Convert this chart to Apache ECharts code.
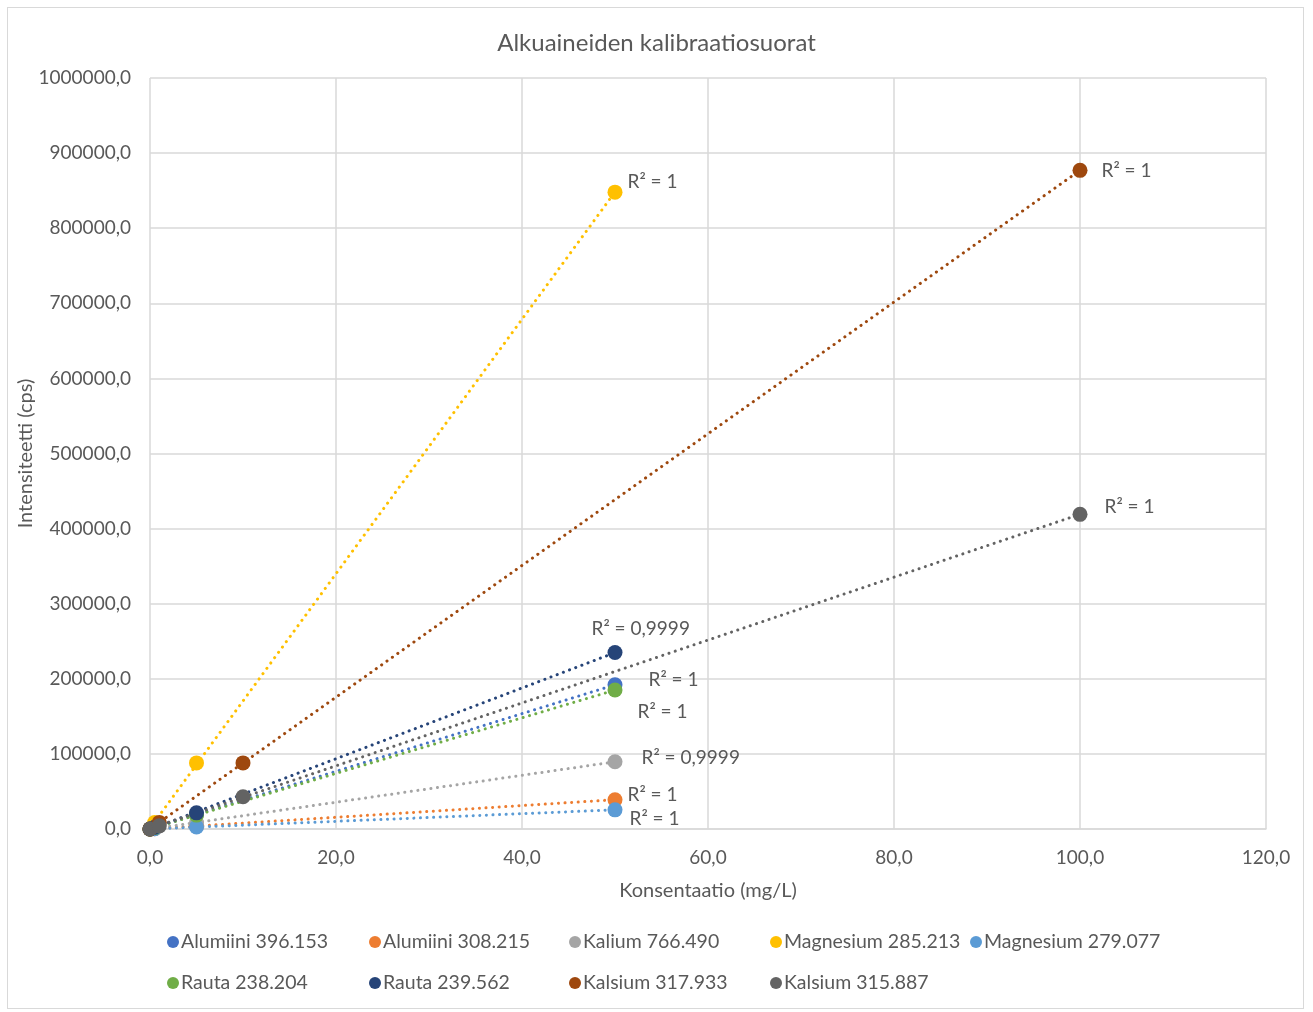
<!DOCTYPE html>
<html><head><meta charset="utf-8">
<script src="https://cdn.jsdelivr.net/npm/echarts@6/dist/echarts.min.js"></script>
<style>
html,body{margin:0;padding:0;background:#fff;}
#frame{position:absolute;left:7px;top:7px;width:1297px;height:1002px;border:1px solid #d9d9d9;box-sizing:border-box;}
#chart{position:absolute;left:0;top:0;width:1313px;height:1012px;}
</style></head>
<body><div id="frame"></div><div id="chart"></div>
<script>
const seriesNames = ['Alumiini 396.153','Alumiini 308.215','Kalium 766.490','Magnesium 285.213','Magnesium 279.077','Rauta 238.204','Rauta 239.562','Kalsium 317.933','Kalsium 315.887'];
const colors = ['#4472C4','#ED7D31','#A5A5A5','#FFC000','#5B9BD5','#70AD47','#264478','#9E480E','#636363'];
const xLow = [0, 0.5, 5, 50];
const xHigh = [0, 1, 10, 100];
const al396 = [0, 1900, 19200, 192000];
const al308 = [0, 390, 3900, 39000];
const kal766 = [0, 900, 8200, 89500];
const mg285 = [0, 8500, 88000, 848000];
const mg279 = [0, 260, 2600, 25500];
const fe238 = [0, 1850, 18500, 185000];
const fe239 = [0, 2300, 21500, 235000];
const ca317 = [0, 8800, 88000, 877000];
const ca315 = [0, 4200, 43000, 419000];
const r2Labels = ['R² = 1','R² = 1','R² = 0,9999','R² = 1','R² = 1','R² = 1','R² = 0,9999','R² = 1','R² = 1'];
const xTickLabels = ['0,0','20,0','40,0','60,0','80,0','100,0','120,0'];

const values = [al396, al308, kal766, mg285, mg279, fe238, fe239, ca317, ca315];
const xs = [xLow, xLow, xLow, xLow, xLow, xLow, xLow, xHigh, xHigh];
// label layout offsets (style, not data)
const labelOffsets = [[21,-5],[0,-5],[14,-4],[0,-10],[2,9],[10,22],[-36,-24],[9,1],[12,-7]];
const legendPos = [[162,927],[364,927],[564,927],[765,927],[965,927],[162,968],[364,968],[564,968],[765,968]];

function regress(x, y){
  const n = x.length; let sx=0, sy=0, sxx=0, sxy=0;
  for(let i=0;i<n;i++){sx+=x[i];sy+=y[i];sxx+=x[i]*x[i];sxy+=x[i]*y[i];}
  const b=(n*sxy-sx*sy)/(n*sxx-sx*sx); const a=(sy-b*sx)/n; return [a,b];
}

const FONT = 'Lato';
const TXT = '#595959';
const series = [];
seriesNames.forEach((name,i)=>{
  const x = xs[i], y = values[i];
  const [a,b] = regress(x,y);
  const xmax = Math.max(...x);
  series.push({
    name: name+' trend', type:'line', data:[[0,a],[xmax,a+b*xmax]],
    showSymbol:false, symbol:'none', silent:true, z:1,
    lineStyle:{color:colors[i], width:3, type:[0.1,6.5], cap:'round'}
  });
});
seriesNames.forEach((name,i)=>{
  const x = xs[i], y = values[i];
  const data = x.map((xv,j)=>{
    const item = {value:[xv, y[j]]};
    if(j===x.length-1){
      item.label = {show:true, position:'right', formatter:r2Labels[i], offset:labelOffsets[i],
        color:TXT, fontSize:19, fontFamily:FONT};
    }
    return item;
  });
  series.push({
    name:name, type:'scatter', data:data, symbol:'circle', symbolSize:15, z:3,
    itemStyle:{color:colors[i], opacity:1}
  });
});

const legends = seriesNames.map((name,i)=>({
  data:[{name:name, icon:'circle'}], left:legendPos[i][0], top:legendPos[i][1],
  itemWidth:12, itemHeight:12, itemGap:4, selectedMode:false,
  textStyle:{color:TXT, fontSize:19.5, fontFamily:FONT, padding:[0,0,0,-3]}
}));

const chart = echarts.init(document.getElementById('chart'), null, {renderer:'canvas'});
chart.setOption({
  animation:false,
  color:colors,
  title:{text:'Alkuaineiden kalibraatiosuorat', left:'center', top:26,
    textStyle:{color:TXT, fontSize:24, fontWeight:'normal', fontFamily:FONT}},
  legend:legends,
  grid:{left:150, right:47, top:78, bottom:183, containLabel:false},
  xAxis:{type:'value', min:0, max:120, interval:20,
    name:'Konsentaatio (mg/L)', nameLocation:'middle', nameGap:52, nameMoveOverlap:false,
    nameTextStyle:{color:TXT, fontSize:20, fontFamily:FONT},
    axisLine:{show:true, lineStyle:{color:'#d9d9d9', width:1.5}},
    axisTick:{show:false},
    axisLabel:{color:TXT, fontSize:19, fontFamily:FONT, margin:19,
      formatter:(v)=>xTickLabels[Math.round(v/20)]},
    splitLine:{show:true, lineStyle:{color:'#d9d9d9', width:1.5}}},
  yAxis:{type:'value', min:0, max:1000000, interval:100000,
    name:'Intensiteetti (cps)', nameLocation:'middle', nameGap:114, nameRotate:90, nameMoveOverlap:false,
    nameTextStyle:{color:TXT, fontSize:20, fontFamily:FONT},
    axisLine:{show:false}, axisTick:{show:false},
    axisLabel:{color:TXT, fontSize:19, fontFamily:FONT, margin:19,
      formatter:(v)=>v.toFixed(1).replace('.',',')},
    splitLine:{show:true, lineStyle:{color:'#d9d9d9', width:1.5}}},
  series:series
});
</script></body></html>
